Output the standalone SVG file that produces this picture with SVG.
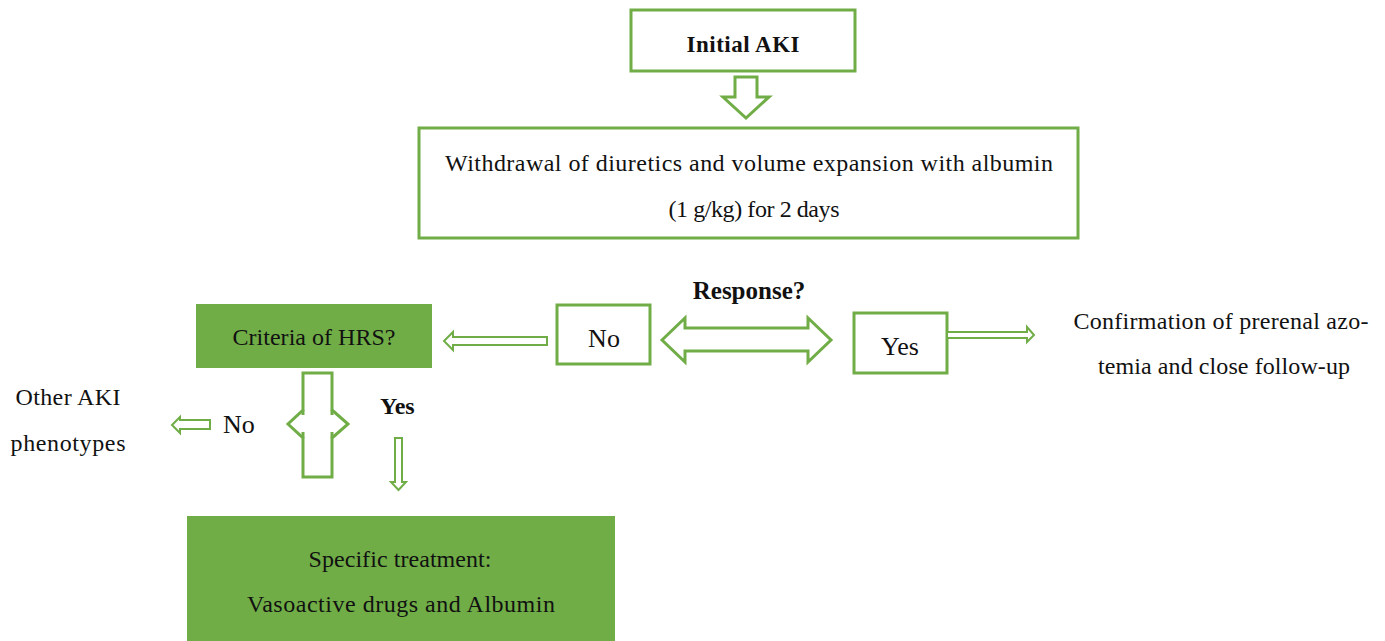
<svg xmlns="http://www.w3.org/2000/svg" width="1385" height="641" viewBox="0 0 1385 641">
<style>
.box{fill:#fff;stroke:#70AD47;stroke-width:3}
.fbox{fill:#70AD47;stroke:none}
.arr{fill:#fff;stroke:#70AD47;stroke-width:3;stroke-linejoin:miter}
.arr2{fill:#fff;stroke:#70AD47;stroke-width:2}
text{font-family:"Liberation Serif","Times New Roman",serif;font-size:24px;fill:#111}
.b{font-weight:bold;font-size:23px}
.s{font-size:26px}
.m{text-anchor:middle}
</style>
<rect width="1385" height="641" fill="#fff"/>
<g id="initial-aki">
<rect class="box" x="631" y="10" width="224" height="61"/>
<text class="b m" x="743" y="52" textLength="113" lengthAdjust="spacing">Initial AKI</text>
</g>
<g id="withdrawal">
<rect class="box" x="419" y="128" width="659" height="110"/>
<text class="m" x="749" y="171" textLength="608" lengthAdjust="spacing">Withdrawal of diuretics and volume expansion with albumin</text>
<text class="m" x="754" y="217" textLength="171" lengthAdjust="spacing">(1 g/kg) for 2 days</text>
</g>
<g id="response-label">
<text class="b m" x="749" y="299" style="font-size:25px">Response?</text>
</g>
<g id="criteria-hrs">
<rect class="fbox" x="196" y="304" width="236" height="64"/>
<text class="m" x="314" y="345" textLength="163" lengthAdjust="spacing">Criteria of HRS?</text>
</g>
<g id="no-box">
<rect class="box" x="557" y="305" width="93" height="59"/>
<text class="m s" x="604" y="347">No</text>
</g>
<g id="yes-box">
<rect class="box" x="854" y="313" width="93" height="60"/>
<text class="m s" x="900" y="355">Yes</text>
</g>
<g id="confirmation">
<text class="m" x="1221" y="329" textLength="295" lengthAdjust="spacing">Confirmation of prerenal azo-</text>
<text class="m" x="1224" y="374" textLength="252" lengthAdjust="spacing">temia and close follow-up</text>
</g>
<g id="other-aki">
<text class="m" x="68" y="405" textLength="105" lengthAdjust="spacing">Other AKI</text>
<text class="m" x="68" y="451" textLength="115" lengthAdjust="spacing">phenotypes</text>
</g>
<g id="no-label">
<text class="s" x="223" y="433">No</text>
</g>
<g id="yes-label">
<text class="b" x="380" y="414" style="font-size:24px">Yes</text>
</g>
<g id="specific-treatment">
<rect class="fbox" x="187" y="516" width="428" height="130"/>
<text class="m" x="400" y="567" textLength="183" lengthAdjust="spacing">Specific treatment:</text>
<text class="m" x="401" y="612" textLength="308" lengthAdjust="spacing">Vasoactive drugs and Albumin</text>
</g>
<g id="connectors">
<polygon class="arr" points="735,77 757,77 757,97 769,97 746,118 723,97 735,97"/>
<polygon class="arr2" points="547,337 547,345 453,345 453,350 444,341 453,332 453,337"/>
<polygon class="arr" points="662,340 685,318 685,328 808,328 808,318 831,340 808,362 808,351 685,351 685,362"/>
<polygon class="arr2" points="947,332 1027,332 1027,327 1034,335 1027,342 1027,338 947,338"/>
<polygon class="arr2" points="210,420 210,429 180,429 180,433 172,425 180,417 180,420"/>
<polygon class="arr" points="303,373 332,373 332,410 348,424 332,438 332,477 303,477 303,438 288,424 303,410"/>
<path d="M303,410V415M303,432V438M332,410V415M332,432V438" fill="none" stroke="#70AD47" stroke-width="3"/>
<polygon class="arr2" points="395,438 402,438 402,482 406,482 398.5,490 391,482 395,482"/>
</g>
</svg>
